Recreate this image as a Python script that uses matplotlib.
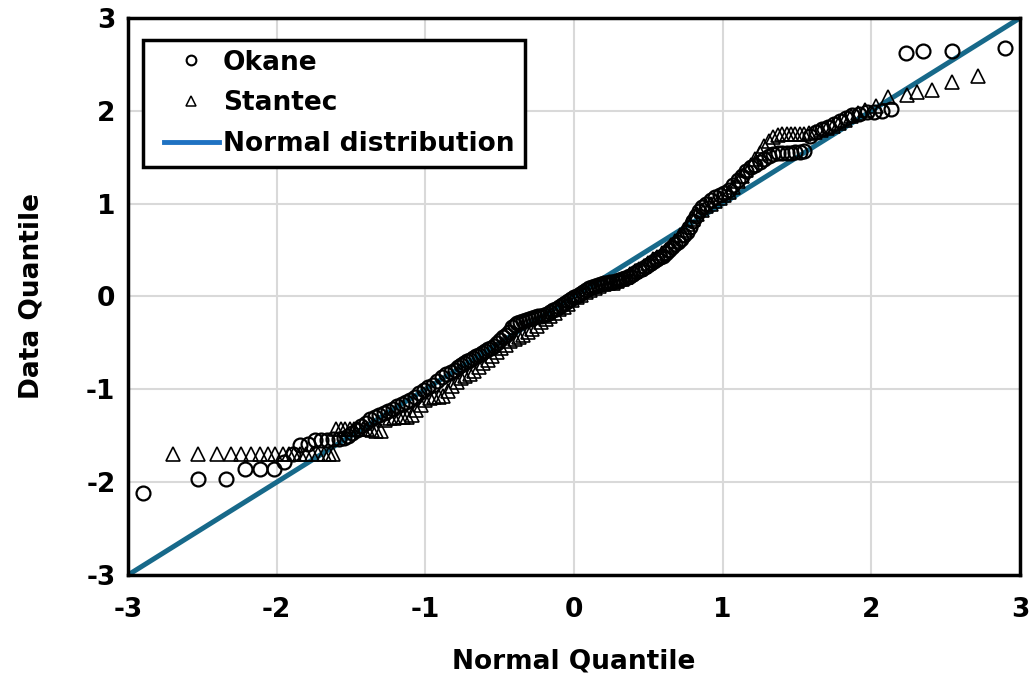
import matplotlib
matplotlib.use("Agg")
import matplotlib.pyplot as plt
from matplotlib.lines import Line2D
from matplotlib.legend_handler import HandlerLine2D

# Okane: normal quantile (x) vs data quantile (y)
okane_x = [-2.90, -2.53, -2.34, -2.21, -2.11, -2.02, -1.95, -1.89, -1.84, -1.79,
           -1.74, -1.70, -1.66, -1.62, -1.58, -1.55, -1.52, -1.49, -1.46, -1.43,
           -1.40, -1.37, -1.34, -1.31, -1.28, -1.25, -1.22, -1.19, -1.16, -1.13,
           -1.10, -1.07, -1.04, -1.01, -0.98, -0.95, -0.92, -0.89, -0.86, -0.83,
           -0.80, -0.78, -0.76, -0.74, -0.72, -0.70, -0.68, -0.66, -0.64, -0.62,
           -0.60, -0.58, -0.56, -0.54, -0.52, -0.50, -0.48, -0.46, -0.44, -0.42,
           -0.40, -0.38, -0.36, -0.34, -0.32, -0.30, -0.28, -0.26, -0.24, -0.22,
           -0.20, -0.18, -0.16, -0.14, -0.12, -0.10, -0.08, -0.06, -0.04, -0.02,
           0.00, 0.02, 0.04, 0.06, 0.08, 0.10, 0.12, 0.14, 0.16, 0.18,
           0.20, 0.22, 0.24, 0.26, 0.28, 0.30, 0.32, 0.34, 0.36, 0.38,
           0.40, 0.42, 0.44, 0.46, 0.48, 0.50, 0.52, 0.54, 0.56, 0.58,
           0.60, 0.62, 0.64, 0.66, 0.68, 0.70, 0.72, 0.74, 0.76, 0.78,
           0.80, 0.82, 0.84, 0.86, 0.89, 0.92, 0.95, 0.98, 1.01, 1.04,
           1.07, 1.10, 1.13, 1.16, 1.19, 1.22, 1.25, 1.28, 1.31, 1.34,
           1.37, 1.40, 1.43, 1.46, 1.49, 1.52, 1.55, 1.59, 1.63, 1.67,
           1.71, 1.75, 1.79, 1.83, 1.87, 1.92, 1.97, 2.02, 2.07, 2.13,
           2.23, 2.35, 2.54, 2.90]
okane_y = [-2.12, -1.97, -1.97, -1.86, -1.86, -1.86, -1.78, -1.70, -1.60, -1.59,
           -1.55, -1.55, -1.55, -1.54, -1.53, -1.52, -1.50, -1.47, -1.44, -1.40,
           -1.36, -1.32, -1.30, -1.28, -1.25, -1.23, -1.21, -1.18, -1.16, -1.14,
           -1.11, -1.08, -1.04, -1.01, -0.98, -0.95, -0.91, -0.87, -0.84, -0.81,
           -0.79, -0.76, -0.74, -0.72, -0.70, -0.68, -0.66, -0.64, -0.63, -0.61,
           -0.59, -0.57, -0.55, -0.53, -0.50, -0.47, -0.44, -0.41, -0.38, -0.33,
           -0.31, -0.29, -0.27, -0.26, -0.25, -0.24, -0.23, -0.22, -0.21, -0.21,
           -0.20, -0.19, -0.17, -0.15, -0.13, -0.11, -0.09, -0.07, -0.05, -0.03,
           -0.01, 0.01, 0.03, 0.05, 0.07, 0.09, 0.10, 0.11, 0.12, 0.13,
           0.14, 0.15, 0.16, 0.16, 0.17, 0.18, 0.19, 0.20, 0.21, 0.22,
           0.24, 0.26, 0.28, 0.30, 0.32, 0.34, 0.36, 0.38, 0.40, 0.42,
           0.44, 0.47, 0.50, 0.53, 0.56, 0.59, 0.62, 0.66, 0.70, 0.75,
           0.81, 0.87, 0.92, 0.96, 1.00, 1.04, 1.07, 1.09, 1.11, 1.15,
           1.20, 1.25, 1.30, 1.35, 1.39, 1.42, 1.45, 1.48, 1.51, 1.54,
           1.55, 1.55, 1.55, 1.55, 1.56, 1.56, 1.57, 1.73, 1.77, 1.80,
           1.83, 1.86, 1.89, 1.92, 1.95, 1.97, 1.99, 1.99, 2.00, 2.02,
           2.62, 2.64, 2.64, 2.68]

# Stantec: normal quantile (x) vs data quantile (y)
stantec_x = [-2.70, -2.53, -2.40, -2.31, -2.24, -2.17, -2.11, -2.06, -2.01, -1.96,
             -1.92, -1.88, -1.84, -1.80, -1.76, -1.72, -1.68, -1.65, -1.62, -1.60,
             -1.57, -1.54, -1.51, -1.48, -1.45, -1.42, -1.39, -1.36, -1.33, -1.30,
             -1.27, -1.24, -1.21, -1.18, -1.15, -1.12, -1.09, -1.06, -1.03, -1.00,
             -0.97, -0.94, -0.91, -0.88, -0.85, -0.82, -0.79, -0.76, -0.73, -0.70,
             -0.67, -0.64, -0.61, -0.58, -0.55, -0.52, -0.49, -0.46, -0.43, -0.40,
             -0.37, -0.34, -0.31, -0.28, -0.25, -0.22, -0.19, -0.16, -0.13, -0.10,
             -0.07, -0.04, -0.01, 0.02, 0.05, 0.08, 0.11, 0.14, 0.17, 0.20,
             0.23, 0.26, 0.29, 0.32, 0.35, 0.38, 0.41, 0.44, 0.47, 0.50,
             0.53, 0.56, 0.59, 0.62, 0.65, 0.68, 0.71, 0.74, 0.77, 0.80,
             0.83, 0.86, 0.89, 0.92, 0.95, 0.98, 1.01, 1.04, 1.07, 1.10,
             1.13, 1.16, 1.19, 1.22, 1.25, 1.28, 1.31, 1.34, 1.37, 1.40,
             1.43, 1.46, 1.49, 1.52, 1.55, 1.58, 1.62, 1.66, 1.70, 1.74,
             1.78, 1.82, 1.86, 1.91, 1.96, 2.03, 2.11, 2.24, 2.31, 2.41,
             2.54, 2.72]
stantec_y = [-1.70, -1.70, -1.70, -1.70, -1.70, -1.70, -1.70, -1.70, -1.70, -1.70,
             -1.70, -1.70, -1.70, -1.70, -1.70, -1.70, -1.70, -1.70, -1.70, -1.43,
             -1.43, -1.43, -1.43, -1.43, -1.43, -1.43, -1.43, -1.44, -1.45, -1.45,
             -1.33, -1.31, -1.31, -1.30, -1.30, -1.30, -1.28, -1.22, -1.17, -1.12,
             -1.09, -1.08, -1.08, -1.07, -1.02, -0.96, -0.92, -0.88, -0.86, -0.84,
             -0.80, -0.76, -0.72, -0.68, -0.64, -0.60, -0.56, -0.52, -0.48, -0.46,
             -0.44, -0.41, -0.38, -0.35, -0.32, -0.28, -0.24, -0.21, -0.18, -0.14,
             -0.11, -0.08, -0.04, -0.01, 0.02, 0.05, 0.07, 0.09, 0.11, 0.13,
             0.14, 0.15, 0.17, 0.19, 0.21, 0.24, 0.27, 0.30, 0.33, 0.36,
             0.40, 0.43, 0.47, 0.50, 0.55, 0.60, 0.66, 0.72, 0.78, 0.84,
             0.89, 0.93, 0.97, 1.00, 1.03, 1.06, 1.09, 1.13, 1.18, 1.24,
             1.30, 1.36, 1.42, 1.48, 1.55, 1.62, 1.68, 1.72, 1.74, 1.75,
             1.75, 1.75, 1.75, 1.75, 1.75, 1.76, 1.77, 1.79, 1.81, 1.84,
             1.87, 1.90, 1.94, 1.98, 2.01, 2.05, 2.15, 2.17, 2.20, 2.22,
             2.31, 2.37]

# Reference line (normal distribution)
linha_x = [-3, 3]
linha_y = [-3, 3]

ticks = [-3, -2, -1, 0, 1, 2, 3]


def gerar_grafico():
    plt.rcParams['font.family'] = ['DejaVu Sans']
    plt.rcParams['font.weight'] = 'bold'
    plt.rcParams['axes.unicode_minus'] = False

    fig = plt.figure(figsize=(10.33, 6.78), dpi=100)
    ax = fig.add_axes([0.1239, 0.1519, 0.8635, 0.8216])

    # Linha normal por baixo dos pontos
    ax.plot(linha_x, linha_y, color='#17698a', linewidth=3.6, zorder=2)
    ax.plot(okane_x, okane_y, linestyle='none', marker='o', markersize=10,
            markerfacecolor='none', markeredgecolor='black', markeredgewidth=1.6, zorder=3)
    ax.plot(stantec_x, stantec_y, linestyle='none', marker='^', markersize=10.5,
            markerfacecolor='none', markeredgecolor='black', markeredgewidth=1.2, zorder=3)

    ax.set_xlim(-3, 3)
    ax.set_ylim(-3, 3)
    ax.set_xticks(ticks)
    ax.set_yticks(ticks)
    ax.grid(True, color='#d9d9d9', linewidth=1.5, zorder=0)
    ax.set_axisbelow(True)
    ax.tick_params(length=0, labelsize=19)
    ax.tick_params(axis='x', pad=16)
    ax.tick_params(axis='y', pad=9)
    for lab in ax.get_xticklabels() + ax.get_yticklabels():
        lab.set_fontweight('bold')
    for sp in ax.spines.values():
        sp.set_linewidth(2.5)
        sp.set_color('black')

    ax.set_xlabel('Normal Quantile', fontsize=19, fontweight='bold', labelpad=18)
    ax.set_ylabel('Data Quantile', fontsize=19, fontweight='bold', labelpad=30)

    # Legenda
    handles = [
        Line2D([], [], linestyle='none', marker='o', markersize=7,
               markerfacecolor='none', markeredgecolor='black', markeredgewidth=1.5),
        Line2D([], [], linestyle='none', marker='^', markersize=7.5,
               markerfacecolor='none', markeredgecolor='black', markeredgewidth=1.1),
        Line2D([], [], color='#1f72c2', linewidth=3.5),
    ]
    leg = ax.legend(handles, ['Okane', 'Stantec', 'Normal distribution'],
                    loc='upper left', bbox_to_anchor=(0.017, 0.961),
                    prop={'weight': 'bold', 'size': 19}, frameon=True, fancybox=False,
                    edgecolor='black', framealpha=1, handlelength=2.5,
                    handletextpad=0.15, borderpad=0.38, labelspacing=0.55,
                    borderaxespad=0,
                    handler_map={Line2D: HandlerLine2D(xpad=0.4)})
    leg.get_frame().set_linewidth(2.5)

    fig.savefig('out.png', dpi=100)


if __name__ == "__main__":
    gerar_grafico()
